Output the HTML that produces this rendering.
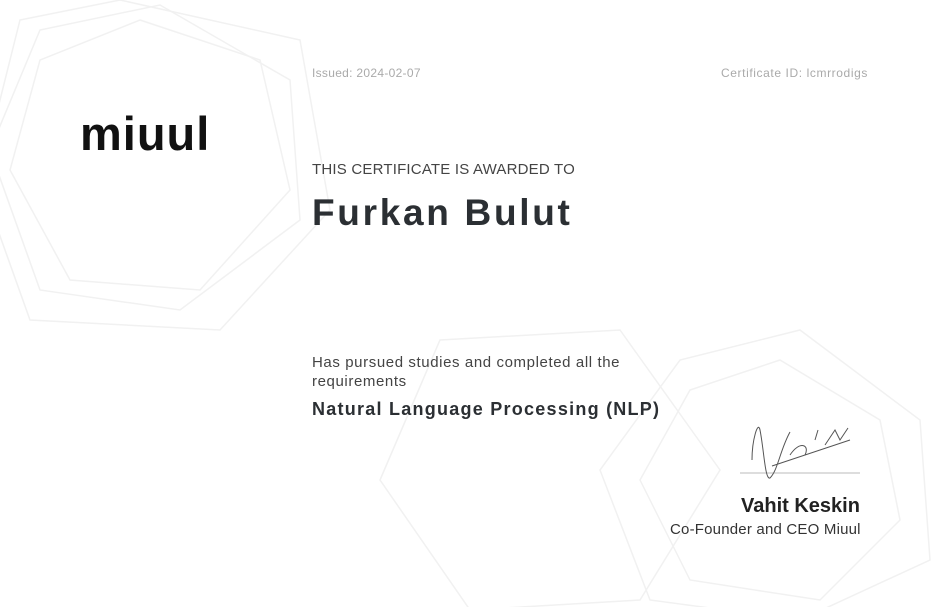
<!DOCTYPE html>
<html><head><meta charset="utf-8"><style>
body{margin:0;width:942px;height:607px;overflow:hidden;background:#fff;font-family:"Liberation Sans",sans-serif;position:relative}
.t{position:absolute;white-space:nowrap}
</style></head><body>
<svg width="942" height="607" style="position:absolute;left:0;top:0">
<g stroke="#f1f1f1" stroke-width="1.5" fill="none">
<polygon points="140,20 260,60 290,190 200,290 70,280 10,170 40,60"/>
<polygon points="160,5 290,80 300,220 180,310 40,290 -10,150 40,30"/>
<polygon points="120,0 300,40 330,210 220,330 30,320 -20,180 20,20"/>
<polygon points="780,360 880,420 900,520 820,600 690,580 640,480 690,390"/>
<polygon points="800,330 920,420 930,560 800,620 650,600 600,470 680,360"/>
<polygon points="440,340 620,330 720,470 640,600 470,610 380,480"/>
</g>
</svg>
<div class="t" style="left:80px;top:106px;font-size:47px;font-weight:bold;color:#111;letter-spacing:1px">miuul</div>
<div class="t" style="left:312px;top:66px;font-size:12px;color:#aaa;letter-spacing:0.3px">Issued: 2024-02-07</div>
<div class="t" style="left:721px;top:66px;font-size:12px;color:#aaa;letter-spacing:0.6px">Certificate ID: lcmrrodigs</div>
<div class="t" style="left:312px;top:161px;font-size:15px;color:#444;letter-spacing:0.2px">THIS CERTIFICATE IS AWARDED TO</div>
<div class="t" style="left:312px;top:192px;font-size:37px;font-weight:bold;color:#2b2f33;letter-spacing:2.7px">Furkan Bulut</div>
<div class="t" style="left:312px;top:353px;font-size:15px;color:#444;line-height:19px;letter-spacing:0.6px">Has pursued studies and completed all the<br>requirements</div>
<div class="t" style="left:312px;top:399px;font-size:18px;font-weight:bold;color:#2b2f33;letter-spacing:1.25px">Natural Language Processing (NLP)</div>
<svg width="942" height="607" style="position:absolute;left:0;top:0">
<line x1="740" y1="473" x2="860" y2="473" stroke="#bbb"/>
<path d="M752,460 C752,440 758,420 760,430 C764,450 765,480 770,478 C778,470 780,450 790,432 M772,466 C790,460 820,450 850,440 M790,455 C800,440 810,445 805,455 M815,440 L818,430 M825,445 L835,430 L840,440 L848,428" stroke="#555" stroke-width="1" fill="none"/>
</svg>
<div class="t" style="left:741px;top:495px;font-size:20px;font-weight:bold;color:#222">Vahit Keskin</div>
<div class="t" style="left:670px;top:521px;font-size:15px;color:#333;letter-spacing:0.2px">Co-Founder and CEO Miuul</div>
</body></html>
